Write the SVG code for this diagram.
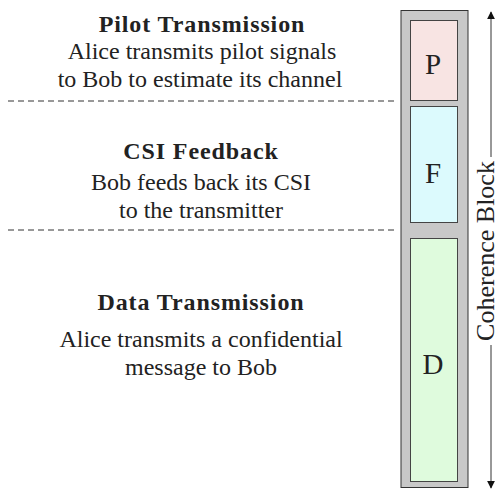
<svg xmlns="http://www.w3.org/2000/svg" width="499" height="491" viewBox="0 0 499 491">
  <style>
    .title { font-family: "Liberation Serif", serif; font-weight: bold; font-size: 24px; letter-spacing: 0.9px; fill: #222; text-anchor: middle; }
    .body { font-family: "Liberation Serif", serif; font-size: 24px; fill: #222; text-anchor: middle; }
    .span-label { font-family: "Liberation Serif", serif; font-size: 26px; fill: #222; text-anchor: middle; }
    .slot { font-family: "Liberation Serif", serif; font-size: 29px; fill: #222; text-anchor: middle; }
    .sep { stroke: #333; stroke-width: 1; stroke-dasharray: 6 4; fill: none; }
    .cell { stroke: #444; stroke-width: 1; }
    .axis { stroke: #333; stroke-width: 1; fill: none; }
  </style>
  <defs>
    <marker id="tip" viewBox="0 0 10 10" refX="9" refY="5" markerWidth="8" markerHeight="8" markerUnits="userSpaceOnUse" orient="auto-start-reverse">
      <path d="M0,0 L10,5 L0,10 Z" fill="#111"/>
    </marker>
  </defs>
  <rect width="499" height="491" fill="#fff"/>

  <!-- phase descriptions -->
  <g id="pilot-text">
    <text class="title" x="202" y="32">Pilot Transmission</text>
    <text class="body" x="202" y="59">Alice transmits pilot signals</text>
    <text class="body" x="200" y="87">to Bob to estimate its channel</text>
  </g>
  <g id="feedback-text">
    <text class="title" x="201" y="159">CSI Feedback</text>
    <text class="body" x="201" y="190">Bob feeds back its CSI</text>
    <text class="body" x="201" y="218">to the transmitter</text>
  </g>
  <g id="data-text">
    <text class="title" x="201" y="310">Data Transmission</text>
    <text class="body" x="201" y="347">Alice transmits a confidential</text>
    <text class="body" x="201" y="375">message to Bob</text>
  </g>

  <!-- separators between phases -->
  <g id="separators">
    <line class="sep" x1="8" y1="101" x2="396" y2="101"/>
    <line class="sep" x1="8" y1="230" x2="396" y2="230"/>
  </g>

  <!-- coherence block column -->
  <g id="block">
    <rect x="401" y="10.5" width="67" height="477" fill="#c8c8c8" stroke="#333" stroke-width="1"/>
  </g>
  <g id="slot-P">
    <rect class="cell" x="410.5" y="20.5" width="47" height="80" fill="#f8e4e3"/>
    <text class="slot" x="433" y="74">P</text>
  </g>
  <g id="slot-F">
    <rect class="cell" x="410.5" y="106.5" width="47" height="116" fill="#dcfafd"/>
    <text class="slot" x="433" y="183">F</text>
  </g>
  <g id="slot-D">
    <rect class="cell" x="410.5" y="238.5" width="47" height="243" fill="#dffbdd"/>
    <text class="slot" x="433" y="374">D</text>
  </g>

  <!-- coherence block span -->
  <g id="connectors">
    <line class="axis" x1="491" y1="157" x2="491" y2="12" marker-end="url(#tip)"/>
    <line class="axis" x1="491" y1="345" x2="491" y2="488" marker-end="url(#tip)"/>
  </g>
  <text class="span-label" transform="translate(494,251) rotate(-90)">Coherence Block</text>
</svg>
